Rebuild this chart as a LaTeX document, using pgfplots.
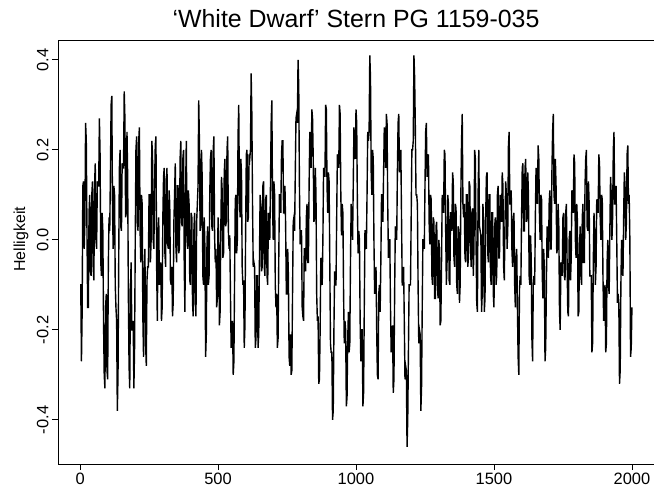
\documentclass[border=0pt]{standalone}
\usepackage{fontspec}
\setmainfont{Liberation Sans}
\usepackage{pgfplots}
\pgfplotsset{compat=1.18}

\begin{document}
\begin{tikzpicture}
\begin{axis}[
  scale only axis,
  width=596bp, height=424bp,
  xmin=-80, xmax=2080,
  ymin=-0.498, ymax=0.444,
  axis line style={line width=0.8bp},
  tick style={black, line width=0.8bp},
  tick align=outside,
  major tick length=6bp,
  xtick pos=bottom, ytick pos=left,
  xtick={0,500,1000,1500,2000},
  xticklabels={0,500,1000,1500,2000},
  ytick={-0.4,-0.2,0,0.2,0.4},
  yticklabels={-0.4,-0.2,0.0,0.2,0.4},
  ticklabel style={font=\fontsize{16.5}{18}\selectfont},
  yticklabel style={rotate=90, anchor=south},
  title={‘White Dwarf’ Stern PG 1159-035},
  title style={font=\fontsize{25}{28}\selectfont, at={(rel axis cs:0.5,1)}, anchor=base, yshift=7bp},
  ylabel={Helligkeit},
  ylabel style={font=\fontsize{16}{18}\selectfont, at={(rel axis cs:-0.062,0.53)}, anchor=center},
]
% brightness every 2.5 time steps
\addplot[black, line width=1.4bp, line join=miter, no markers] coordinates {
(0,-0.10)(2.5,-0.10)(5,-0.27)(7.5,-0.16)(10,0.12)(12.5,0.13)(15,-0.02)(17.5,0.04)(20,0.26)(22.5,0.22)(25,0.02)(27.5,-0.15)(30,-0.15)(32.5,0.06)(35,0.10)(37.5,-0.07)(40,-0.08)(42.5,0.10)(45,0.13)(47.5,-0.06)
(50,-0.09)(52.5,0.12)(55,0.17)(57.5,0.00)(60,-0.02)(62.5,0.13)(65,0.12)(67.5,0.12)(70,0.27)(72.5,0.19)(75,-0.05)(77.5,-0.08)(80,0.06)(82.5,0.02)(85,-0.18)(87.5,-0.30)(90,-0.33)(92.5,-0.15)(95,-0.12)(97.5,-0.29)
(100,-0.31)(102.5,-0.05)(105,0.05)(107.5,0.02)(110,0.15)(112.5,0.30)(115,0.32)(117.5,0.07)(120,-0.02)(122.5,0.12)(125,0.10)(127.5,-0.10)(130,-0.15)(132.5,-0.18)(135,-0.38)(137.5,-0.30)(140,-0.05)(142.5,0.16)(145,0.20)(147.5,0.03)
(150,0.02)(152.5,0.17)(155,0.16)(157.5,0.16)(160,0.33)(162.5,0.27)(165,0.05)(167.5,0.06)(170,0.24)(172.5,0.14)(175,-0.12)(177.5,-0.28)(180,-0.33)(182.5,-0.11)(185,-0.05)(187.5,-0.20)(190,-0.20)(192.5,-0.18)(195,-0.33)(197.5,-0.24)
(200,0.00)(202.5,0.20)(205,0.23)(207.5,0.04)(210,0.02)(212.5,0.22)(215,0.25)(217.5,0.02)(220,-0.05)(222.5,0.10)(225,0.08)(227.5,-0.17)(230,-0.26)(232.5,-0.06)(235,-0.02)(237.5,-0.23)(240,-0.28)(242.5,-0.09)(245,-0.06)(247.5,-0.06)
(250,0.10)(252.5,0.10)(255,-0.05)(257.5,0.00)(260,0.22)(262.5,0.19)(265,0.00)(267.5,-0.02)(270,0.12)(272.5,0.21)(275,0.23)(277.5,-0.06)(280,-0.18)(282.5,0.02)(285,0.05)(287.5,-0.10)(290,-0.08)(292.5,-0.05)(295,-0.18)(297.5,-0.15)
(300,0.05)(302.5,0.14)(305,0.16)(307.5,-0.03)(310,-0.06)(312.5,0.13)(315,0.16)(317.5,-0.01)(320,-0.02)(322.5,0.11)(325,0.08)(327.5,-0.09)(330,-0.10)(332.5,-0.06)(335,-0.17)(337.5,-0.14)(340,0.04)(342.5,0.10)(345,0.17)(347.5,-0.02)
(350,-0.05)(352.5,0.12)(355,0.12)(357.5,-0.03)(360,-0.02)(362.5,0.18)(365,0.22)(367.5,0.04)(370,0.03)(372.5,0.18)(375,0.20)(377.5,-0.06)(380,-0.16)(382.5,0.11)(385,0.22)(387.5,0.02)(390,-0.02)(392.5,0.11)(395,0.08)(397.5,-0.09)
(400,-0.10)(402.5,0.06)(405,0.05)(407.5,-0.14)(410,-0.17)(412.5,0.02)(415,0.06)(417.5,-0.14)(420,-0.17)(422.5,0.04)(425,0.08)(427.5,0.12)(430,0.31)(432.5,0.22)(435,0.02)(437.5,0.03)(440,0.20)(442.5,0.14)(445,-0.08)(447.5,-0.10)
(450,0.05)(452.5,-0.02)(455,-0.26)(457.5,-0.21)(460,0.00)(462.5,0.03)(465,-0.10)(467.5,-0.08)(470,0.10)(472.5,0.18)(475,0.20)(477.5,0.03)(480,0.02)(482.5,0.20)(485,0.23)(487.5,0.01)(490,-0.05)(492.5,-0.02)(495,-0.15)(497.5,-0.13)
(500,0.05)(502.5,0.01)(505,-0.19)(507.5,-0.16)(510,0.02)(512.5,0.14)(515,0.11)(517.5,-0.04)(520,-0.03)(522.5,0.15)(525,0.18)(527.5,0.03)(530,0.04)(532.5,0.20)(535,0.23)(537.5,0.02)(540,-0.02)(542.5,0.01)(545,-0.12)(547.5,-0.24)
(550,-0.22)(552.5,-0.18)(555,-0.30)(557.5,-0.27)(560,-0.08)(562.5,0.09)(565,0.10)(567.5,-0.03)(570,0.00)(572.5,0.23)(575,0.30)(577.5,0.10)(580,0.05)(582.5,0.18)(585,0.15)(587.5,-0.06)(590,-0.10)(592.5,-0.09)(595,-0.24)(597.5,-0.19)
(600,0.02)(602.5,0.19)(605,0.20)(607.5,0.04)(610,0.05)(612.5,0.19)(615,0.18)(617.5,0.20)(620,0.37)(622.5,0.28)(625,0.08)(627.5,-0.06)(630,-0.05)(632.5,-0.06)(635,-0.24)(637.5,-0.22)(640,-0.08)(642.5,-0.08)(645,-0.24)(647.5,-0.21)
(650,-0.05)(652.5,0.10)(655,0.08)(657.5,-0.07)(660,-0.06)(662.5,0.12)(665,0.13)(667.5,-0.06)(670,-0.08)(672.5,0.09)(675,0.10)(677.5,-0.08)(680,-0.10)(682.5,0.06)(685,0.05)(687.5,0.00)(690,0.12)(692.5,0.26)(695,0.31)(697.5,0.08)
(700,0.00)(702.5,0.13)(705,0.10)(707.5,-0.10)(710,-0.15)(712.5,-0.12)(715,-0.24)(717.5,-0.22)(720,-0.05)(722.5,0.10)(725,0.10)(727.5,0.06)(730,0.19)(732.5,0.22)(735,0.22)(737.5,0.06)(740,0.06)(742.5,0.12)(745,0.03)(747.5,-0.12)
(750,-0.12)(752.5,-0.02)(755,-0.08)(757.5,-0.26)(760,-0.28)(762.5,-0.21)(765,-0.30)(767.5,-0.29)(770,-0.12)(772.5,0.04)(775,0.05)(777.5,0.02)(780,0.15)(782.5,0.27)(785,0.28)(787.5,0.26)(790,0.40)(792.5,0.34)(795,0.12)(797.5,-0.01)
(800,0.02)(802.5,0.02)(805,-0.15)(807.5,-0.17)(810,-0.18)(812.5,-0.02)(815,-0.02)(817.5,-0.07)(820,0.05)(822.5,0.08)(825,-0.05)(827.5,-0.05)(830,0.12)(832.5,0.24)(835,0.20)(837.5,0.16)(840,0.29)(842.5,0.27)(845,0.18)(847.5,0.04)
(850,0.05)(852.5,0.16)(855,0.10)(857.5,-0.12)(860,-0.18)(862.5,-0.17)(865,-0.32)(867.5,-0.31)(870,-0.20)(872.5,-0.04)(875,-0.05)(877.5,-0.10)(880,0.00)(882.5,0.16)(885,0.15)(887.5,0.14)(890,0.30)(892.5,0.29)(895,0.12)(897.5,0.06)
(900,0.15)(902.5,0.13)(905,-0.05)(907.5,-0.23)(910,-0.25)(912.5,-0.25)(915,-0.40)(917.5,-0.38)(920,-0.20)(922.5,-0.07)(925,-0.10)(927.5,-0.10)(930,0.05)(932.5,0.19)(935,0.18)(937.5,0.16)(940,0.30)(942.5,0.28)(945,0.10)(947.5,0.01)
(950,0.08)(952.5,0.06)(955,-0.12)(957.5,-0.23)(960,-0.18)(962.5,-0.20)(965,-0.37)(967.5,-0.35)(970,-0.22)(972.5,-0.16)(975,-0.25)(977.5,-0.23)(980,-0.05)(982.5,0.08)(985,0.05)(987.5,0.00)(990,0.12)(992.5,0.25)(995,0.22)(997.5,0.18)
(1000,0.29)(1002.5,0.26)(1005,0.08)(1007.5,-0.03)(1010,0.02)(1012.5,0.00)(1015,-0.18)(1017.5,-0.27)(1020,-0.20)(1022.5,-0.20)(1025,-0.37)(1027.5,-0.34)(1030,-0.15)(1032.5,0.02)(1035,0.02)(1037.5,-0.02)(1040,0.10)(1042.5,0.24)(1045,0.22)(1047.5,0.24)
(1050,0.41)(1052.5,0.36)(1055,0.15)(1057.5,0.10)(1060,0.20)(1062.5,0.18)(1065,0.00)(1067.5,-0.12)(1070,-0.08)(1072.5,-0.06)(1075,-0.20)(1077.5,-0.30)(1080,-0.31)(1082.5,-0.12)(1085,-0.10)(1087.5,-0.16)(1090,-0.05)(1092.5,0.10)(1095,0.10)(1097.5,0.04)
(1100,0.15)(1102.5,0.25)(1105,0.20)(1107.5,0.16)(1110,0.28)(1112.5,0.26)(1115,0.08)(1117.5,-0.04)(1120,0.00)(1122.5,0.00)(1125,-0.15)(1127.5,-0.25)(1130,-0.20)(1132.5,-0.19)(1135,-0.34)(1137.5,-0.31)(1140,-0.12)(1142.5,0.03)(1145,0.02)(1147.5,0.00)
(1150,0.15)(1152.5,0.26)(1155,0.28)(1157.5,0.15)(1160,0.18)(1162.5,0.20)(1165,0.05)(1167.5,-0.10)(1170,-0.10)(1172.5,-0.06)(1175,-0.18)(1177.5,-0.31)(1180,-0.28)(1182.5,-0.29)(1185,-0.46)(1187.5,-0.40)(1190,-0.25)(1192.5,-0.10)(1195,-0.10)(1197.5,-0.10)
(1200,0.05)(1202.5,0.20)(1205,0.20)(1207.5,0.22)(1210,0.41)(1212.5,0.36)(1215,0.25)(1217.5,0.10)(1220,0.10)(1222.5,0.08)(1225,-0.10)(1227.5,-0.23)(1230,-0.20)(1232.5,-0.21)(1235,-0.38)(1237.5,-0.33)(1240,-0.15)(1242.5,0.00)(1245,0.00)(1247.5,-0.02)
(1250,0.12)(1252.5,0.24)(1255,0.26)(1257.5,0.14)(1260,0.18)(1262.5,0.19)(1265,0.04)(1267.5,-0.01)(1270,0.10)(1272.5,0.09)(1275,-0.08)(1277.5,-0.10)(1280,0.05)(1282.5,0.04)(1285,-0.13)(1287.5,-0.13)(1290,0.03)(1292.5,0.04)(1295,-0.10)(1297.5,-0.13)
(1300,0.00)(1302.5,-0.02)(1305,-0.19)(1307.5,-0.18)(1310,-0.05)(1312.5,0.10)(1315,0.08)(1317.5,0.06)(1320,0.20)(1322.5,0.19)(1325,0.02)(1327.5,-0.10)(1330,-0.05)(1332.5,0.10)(1335,0.08)(1337.5,-0.09)(1340,-0.10)(1342.5,0.06)(1345,0.06)(1347.5,0.02)
(1350,0.15)(1352.5,0.13)(1355,-0.04)(1357.5,-0.06)(1360,0.08)(1362.5,0.07)(1365,-0.10)(1367.5,-0.12)(1370,0.03)(1372.5,0.02)(1375,-0.14)(1377.5,-0.10)(1380,0.10)(1382.5,0.22)(1385,0.28)(1387.5,0.08)(1390,0.05)(1392.5,0.08)(1395,-0.04)(1397.5,-0.05)
(1400,0.10)(1402.5,0.10)(1405,-0.06)(1407.5,-0.04)(1410,0.13)(1412.5,0.12)(1415,-0.02)(1417.5,-0.06)(1420,0.06)(1422.5,0.07)(1425,-0.08)(1427.5,-0.02)(1430,0.20)(1432.5,0.18)(1435,0.00)(1437.5,-0.14)(1440,-0.16)(1442.5,0.10)(1445,0.20)(1447.5,0.03)
(1450,0.02)(1452.5,0.01)(1455,-0.16)(1457.5,-0.12)(1460,0.08)(1462.5,0.04)(1465,-0.16)(1467.5,-0.13)(1470,0.05)(1472.5,0.14)(1475,0.15)(1477.5,-0.03)(1480,-0.05)(1482.5,0.10)(1485,0.10)(1487.5,-0.08)(1490,-0.10)(1492.5,0.06)(1495,0.06)(1497.5,-0.12)
(1500,-0.15)(1502.5,0.03)(1505,0.05)(1507.5,-0.10)(1510,-0.08)(1512.5,0.10)(1515,0.12)(1517.5,-0.04)(1520,-0.04)(1522.5,0.10)(1525,0.08)(1527.5,0.04)(1530,0.15)(1532.5,0.12)(1535,-0.06)(1537.5,-0.09)(1540,0.04)(1542.5,0.13)(1545,0.10)(1547.5,-0.02)
(1550,0.02)(1552.5,0.21)(1555,0.24)(1557.5,0.08)(1560,0.08)(1562.5,0.11)(1565,-0.02)(1567.5,-0.06)(1570,0.05)(1572.5,0.06)(1575,-0.10)(1577.5,-0.15)(1580,-0.04)(1582.5,-0.02)(1585,-0.15)(1587.5,-0.26)(1590,-0.30)(1592.5,-0.11)(1595,-0.08)(1597.5,-0.10)
(1600,0.05)(1602.5,0.16)(1605,0.17)(1607.5,0.02)(1610,0.02)(1612.5,0.16)(1615,0.18)(1617.5,0.04)(1620,0.05)(1622.5,0.15)(1625,0.10)(1627.5,-0.08)(1630,-0.10)(1632.5,0.01)(1635,-0.04)(1637.5,-0.22)(1640,-0.27)(1642.5,-0.10)(1645,-0.08)(1647.5,-0.10)
(1650,0.05)(1652.5,0.16)(1655,0.12)(1657.5,0.08)(1660,0.21)(1662.5,0.18)(1665,0.05)(1667.5,0.00)(1670,0.10)(1672.5,0.09)(1675,-0.08)(1677.5,-0.13)(1680,-0.02)(1682.5,-0.06)(1685,-0.27)(1687.5,-0.24)(1690,-0.10)(1692.5,0.03)(1695,0.00)(1697.5,-0.04)
(1700,0.08)(1702.5,0.11)(1705,-0.02)(1707.5,-0.02)(1710,0.15)(1712.5,0.24)(1715,0.28)(1717.5,0.10)(1720,0.08)(1722.5,0.18)(1725,0.12)(1727.5,-0.03)(1730,-0.02)(1732.5,0.08)(1735,0.03)(1737.5,-0.16)(1740,-0.20)(1742.5,-0.05)(1745,-0.06)(1747.5,-0.08)
(1750,0.05)(1752.5,0.06)(1755,-0.08)(1757.5,-0.09)(1760,0.06)(1762.5,0.08)(1765,-0.05)(1767.5,-0.16)(1770,-0.17)(1772.5,0.00)(1775,0.02)(1777.5,-0.09)(1780,-0.04)(1782.5,0.11)(1785,0.10)(1787.5,0.06)(1790,0.19)(1792.5,0.17)(1795,0.00)(1797.5,-0.04)
(1800,0.08)(1802.5,0.04)(1805,-0.17)(1807.5,-0.16)(1810,-0.02)(1812.5,0.03)(1815,-0.08)(1817.5,-0.10)(1820,0.05)(1822.5,0.08)(1825,-0.05)(1827.5,-0.05)(1830,0.12)(1832.5,0.18)(1835,0.20)(1837.5,0.03)(1840,0.02)(1842.5,0.13)(1845,0.08)(1847.5,-0.08)
(1850,-0.08)(1852.5,-0.08)(1855,-0.25)(1857.5,-0.23)(1860,-0.05)(1862.5,0.06)(1865,0.02)(1867.5,-0.10)(1870,-0.06)(1872.5,0.09)(1875,0.08)(1877.5,0.06)(1880,0.19)(1882.5,0.17)(1885,0.05)(1887.5,0.00)(1890,0.10)(1892.5,0.09)(1895,-0.08)(1897.5,-0.18)
(1900,-0.12)(1902.5,-0.10)(1905,-0.25)(1907.5,-0.23)(1910,-0.05)(1912.5,0.00)(1915,-0.10)(1917.5,-0.12)(1920,0.02)(1922.5,0.14)(1925,0.10)(1927.5,0.00)(1930,0.05)(1932.5,0.20)(1935,0.24)(1937.5,0.08)(1940,0.08)(1942.5,0.12)(1945,0.00)(1947.5,-0.14)
(1950,-0.12)(1952.5,-0.14)(1955,-0.32)(1957.5,-0.29)(1960,-0.10)(1962.5,0.00)(1965,-0.05)(1967.5,-0.08)(1970,0.05)(1972.5,0.15)(1975,0.12)(1977.5,0.00)(1980,0.04)(1982.5,0.19)(1985,0.21)(1987.5,0.08)(1990,0.10)(1992.5,0.00)(1995,-0.26)(1997.5,-0.24)
(2000,-0.15)
};
\end{axis}
\pgfresetboundingbox
\path ([xshift=-58bp,yshift=-30bp]current axis.south west) rectangle ([yshift=40bp]current axis.north east);
\end{tikzpicture}
\end{document}
